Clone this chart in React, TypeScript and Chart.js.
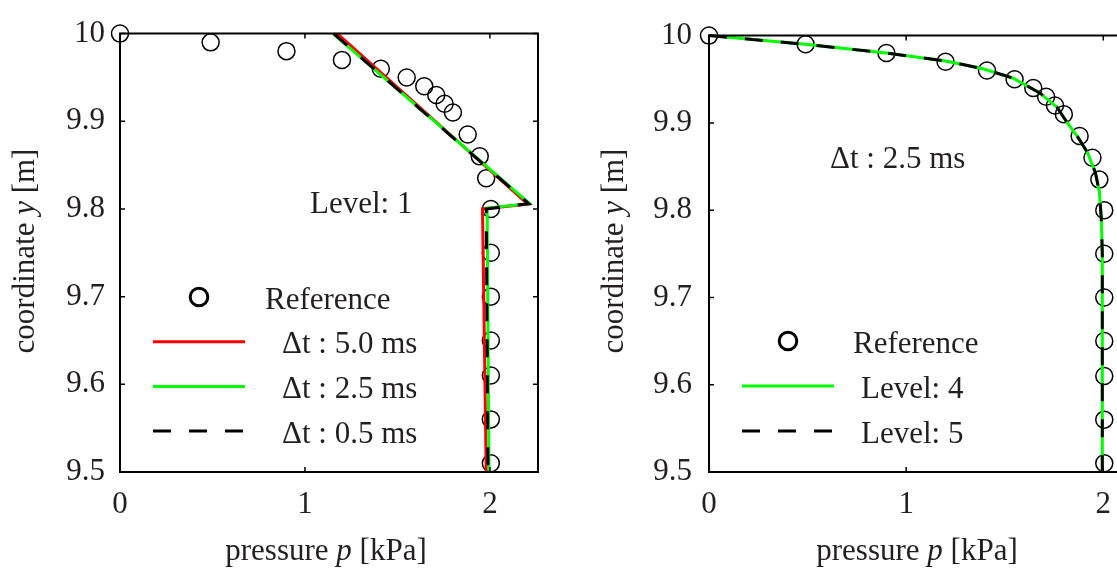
import React, { useEffect, useRef } from 'react';
import { Chart, registerables } from 'chart.js';

Chart.register(...registerables);

const FONT = '"Liberation Serif", "Times New Roman", Times, serif';
const TEXT = '#231f20';
const FS = 31;

// ---------- tick values / labels ----------
const xTickValues = [0, 1, 2];
const xTickLabels = ['0', '1', '2'];
const yTickValues = [9.5, 9.6, 9.7, 9.8, 9.9, 10];
const yTickLabels = ['9.5', '9.6', '9.7', '9.8', '9.9', '10'];

// ---------- reference (circles), shared by both panels ----------
const refP = [0, 0.49, 0.9, 1.2, 1.41, 1.55, 1.645, 1.71, 1.755, 1.8, 1.88, 1.945, 1.98, 2.005, 2.005, 2.005, 2.005, 2.005, 2.005, 2.005];
const refY = [10, 9.99, 9.98, 9.97, 9.96, 9.95, 9.94, 9.93, 9.92, 9.91, 9.885, 9.86, 9.835, 9.8, 9.75, 9.7, 9.65, 9.61, 9.56, 9.51];

// ---------- left panel (Level 1) ----------
const dt50P = [1.175, 2.205, 1.96, 1.98];
const dt50Y = [10, 9.8056, 9.8, 9.5];
const dt25P = [1.152, 2.215, 1.985, 1.995];
const dt25Y = [10, 9.806, 9.801, 9.5];
const dt05P = [1.155, 2.21, 1.98, 1.99];
const dt05Y = [10, 9.806, 9.8, 9.5];

// ---------- right panel (dt 2.5 ms) ----------
const lvl4P = [0, 0.49, 0.9, 1.2, 1.39, 1.545, 1.68, 1.765, 1.815, 1.87, 1.92, 1.96, 1.98, 1.99, 1.995, 1.995, 1.995];
const lvl4Y = [10, 9.99, 9.98, 9.971, 9.962, 9.951, 9.934, 9.918, 9.901, 9.884, 9.866, 9.843, 9.821, 9.79, 9.75, 9.6, 9.5];
const lvl5P = [0, 0.49, 0.9, 1.2, 1.39, 1.545, 1.68, 1.765, 1.815, 1.87, 1.92, 1.96, 1.98, 1.99, 1.995, 1.995, 1.995];
const lvl5Y = [10, 9.99, 9.98, 9.971, 9.962, 9.951, 9.934, 9.918, 9.901, 9.884, 9.866, 9.843, 9.821, 9.79, 9.75, 9.6, 9.5];

const RED = '#ff0000';
const GREEN = '#00ff00';
const BLACK = '#000000';
const DASH = [18, 18];

const pts = (xs: number[], ys: number[]) => xs.map((x, i) => ({ x, y: ys[i] }));

const lineDs = (label: string, xs: number[], ys: number[], color: string, dash: number[] = []) => ({
  label,
  data: pts(xs, ys),
  showLine: true,
  borderColor: color,
  backgroundColor: color,
  borderWidth: 3,
  borderDash: dash,
  pointRadius: 0,
  tension: 0,
  clip: false as const,
});

const refDs = () => ({
  label: 'Reference',
  data: pts(refP, refY),
  showLine: false,
  borderColor: BLACK,
  backgroundColor: 'rgba(0,0,0,0)',
  pointRadius: 8.5,
  pointBorderWidth: 1.5,
  pointStyle: 'circle',
  clip: false as const,
});

type Part = { t: string; it?: boolean };
type LegendEntry = { kind: 'circle' | 'line'; color: string; dash?: number[]; label: string };

function drawMixed(ctx: CanvasRenderingContext2D, parts: Part[], cx: number, by: number, rotate: boolean) {
  ctx.save();
  const widths = parts.map((p) => {
    ctx.font = `${p.it ? 'italic ' : ''}${FS}px ${FONT}`;
    return ctx.measureText(p.t).width;
  });
  const total = widths.reduce((a, b) => a + b, 0);
  if (rotate) {
    ctx.translate(by, cx);
    ctx.rotate(-Math.PI / 2);
  } else {
    ctx.translate(cx, by);
  }
  let x = -total / 2;
  ctx.fillStyle = TEXT;
  ctx.textBaseline = 'alphabetic';
  ctx.textAlign = 'left';
  parts.forEach((p, i) => {
    ctx.font = `${p.it ? 'italic ' : ''}${FS}px ${FONT}`;
    ctx.fillText(p.t, x, 0);
    x += widths[i];
  });
  ctx.restore();
}

interface PanelCfg {
  left: number;
  width: number;
  height: number;
  xMax: number;
  plot: { left: number; right: number; top: number; bottom: number };
  yPad: number;
  datasets: any[];
  legend: { x0: number; x1: number; textX: number; refTextX: number; y0: number; dy: number; entries: LegendEntry[] };
  note: { text: string; x: number; y: number };
  xTitleX: number;
  yTitleBase: number;
  yTitleCenter: number;
}

function Panel({ cfg }: { cfg: PanelCfg }) {
  const ref = useRef<HTMLCanvasElement | null>(null);
  useEffect(() => {
    if (!ref.current) return;
    const decor = {
      id: 'decor',
      afterDraw(chart: any) {
        const ctx: CanvasRenderingContext2D = chart.ctx;
        const { left, right, top, bottom } = chart.chartArea;
        const xs = chart.scales.x;
        const ys = chart.scales.y;
        ctx.save();
        ctx.strokeStyle = BLACK;
        ctx.lineWidth = 2;
        ctx.setLineDash([]);
        ctx.beginPath();
        ctx.moveTo(left, top);
        ctx.lineTo(right, top);
        ctx.lineTo(right, bottom);
        ctx.lineTo(left, bottom);
        ctx.closePath();
        ctx.stroke();
        ctx.lineWidth = 1.5;
        const TL = 5;
        xTickValues.forEach((v) => {
          const px = xs.getPixelForValue(v);
          ctx.beginPath();
          ctx.moveTo(px, bottom);
          ctx.lineTo(px, bottom - TL);
          ctx.moveTo(px, top);
          ctx.lineTo(px, top + TL);
          ctx.stroke();
        });
        yTickValues.forEach((v) => {
          const py = ys.getPixelForValue(v);
          ctx.beginPath();
          ctx.moveTo(left, py);
          ctx.lineTo(left + TL, py);
          ctx.moveTo(right, py);
          ctx.lineTo(right - TL, py);
          ctx.stroke();
        });
        ctx.restore();

        // axis titles
        drawMixed(ctx, [{ t: 'pressure ' }, { t: 'p', it: true }, { t: ' [kPa]' }], cfg.xTitleX, 560, false);
        drawMixed(ctx, [{ t: 'coordinate ' }, { t: 'y', it: true }, { t: ' [m]' }], cfg.yTitleCenter, cfg.yTitleBase, true);

        // note
        ctx.save();
        ctx.font = `${FS}px ${FONT}`;
        ctx.fillStyle = TEXT;
        ctx.textBaseline = 'alphabetic';
        ctx.fillText(cfg.note.text, cfg.note.x, cfg.note.y);
        ctx.restore();

        // legend
        const lg = cfg.legend;
        lg.entries.forEach((e, i) => {
          const yy = lg.y0 + i * lg.dy;
          ctx.save();
          ctx.strokeStyle = e.color;
          ctx.lineWidth = 3;
          if (e.kind === 'circle') {
            ctx.beginPath();
            ctx.arc((lg.x0 + lg.x1) / 2, yy, 8.8, 0, Math.PI * 2);
            ctx.stroke();
          } else {
            ctx.setLineDash(e.dash || []);
            ctx.beginPath();
            ctx.moveTo(lg.x0, yy);
            ctx.lineTo(lg.x1, yy);
            ctx.stroke();
          }
          ctx.setLineDash([]);
          ctx.font = `${FS}px ${FONT}`;
          ctx.fillStyle = TEXT;
          ctx.textBaseline = 'alphabetic';
          ctx.fillText(e.label, e.kind === 'circle' ? lg.refTextX : lg.textX, yy + 11.5);
          ctx.restore();
        });
      },
    };

    const p = cfg.plot;
    const chart = new Chart(ref.current, {
      type: 'scatter',
      data: { datasets: cfg.datasets },
      options: {
        responsive: false,
        animation: false,
        devicePixelRatio: 1,
        layout: { padding: { left: 0, right: cfg.width - p.right, top: p.top, bottom: 0 } },
        plugins: { legend: { display: false }, tooltip: { enabled: false } },
        scales: {
          x: {
            type: 'linear',
            min: 0,
            max: cfg.xMax,
            afterBuildTicks: (s: any) => {
              s.ticks = xTickValues.map((v) => ({ value: v }));
            },
            afterFit: (s: any) => {
              s.height = cfg.height - p.bottom;
            },
            ticks: {
              callback: (_v: any, i: number) => xTickLabels[i],
              font: { family: FONT, size: FS },
              color: TEXT,
              padding: 14,
              maxRotation: 0,
              autoSkip: false,
            },
            grid: { display: false, drawTicks: false },
            border: { display: false },
          },
          y: {
            type: 'linear',
            min: 9.5,
            max: 10,
            afterBuildTicks: (s: any) => {
              s.ticks = yTickValues.map((v) => ({ value: v }));
            },
            afterFit: (s: any) => {
              s.width = p.left;
            },
            ticks: {
              callback: (_v: any, i: number) => yTickLabels[i],
              font: { family: FONT, size: FS },
              color: TEXT,
              padding: cfg.yPad,
              autoSkip: false,
            },
            grid: { display: false, drawTicks: false },
            border: { display: false },
          },
        },
      },
      plugins: [decor],
    });
    return () => chart.destroy();
  }, []);
  return (
    <canvas
      ref={ref}
      width={cfg.width}
      height={cfg.height}
      style={{ position: 'absolute', left: cfg.left, top: 0, width: cfg.width, height: cfg.height }}
    />
  );
}

const leftCfg: PanelCfg = {
  left: 0,
  width: 560,
  height: 570,
  xMax: 2.26,
  plot: { left: 120, right: 538, top: 21, bottom: 472 },
  yPad: 15,
  datasets: [
    lineDs('Δt : 0.5 ms', dt05P, dt05Y, BLACK, DASH),
    lineDs('Δt : 2.5 ms', dt25P, dt25Y, GREEN),
    lineDs('Δt : 5.0 ms', dt50P, dt50Y, RED),
    refDs(),
  ],
  legend: {
    x0: 153,
    x1: 245,
    textX: 282,
    refTextX: 265,
    y0: 297,
    dy: 44.7,
    entries: [
      { kind: 'circle', color: BLACK, label: 'Reference' },
      { kind: 'line', color: RED, label: 'Δt : 5.0 ms' },
      { kind: 'line', color: GREEN, label: 'Δt : 2.5 ms' },
      { kind: 'line', color: BLACK, dash: DASH, label: 'Δt : 0.5 ms' },
    ],
  },
  note: { text: 'Level: 1', x: 310, y: 213 },
  xTitleX: 326,
  yTitleBase: 34,
  yTitleCenter: 251,
};

const rightCfg: PanelCfg = {
  left: 560,
  width: 600,
  height: 570,
  xMax: 2.1,
  plot: { left: 149, right: 563, top: 21, bottom: 472 },
  yPad: 17,
  datasets: [
    lineDs('Level: 5', lvl5P, lvl5Y, BLACK, DASH),
    lineDs('Level: 4', lvl4P, lvl4Y, GREEN),
    refDs(),
  ],
  legend: {
    x0: 182,
    x1: 274,
    textX: 301,
    refTextX: 293,
    y0: 341,
    dy: 45,
    entries: [
      { kind: 'circle', color: BLACK, label: 'Reference' },
      { kind: 'line', color: GREEN, label: 'Level: 4' },
      { kind: 'line', color: BLACK, dash: DASH, label: 'Level: 5' },
    ],
  },
  note: { text: 'Δt : 2.5 ms', x: 270, y: 168 },
  xTitleX: 357,
  yTitleBase: 63,
  yTitleCenter: 251,
};

export default function App() {
  return (
    <div
      style={{
        position: 'fixed',
        left: 0,
        top: 0,
        width: 1117,
        height: 570,
        overflow: 'hidden',
        background: '#ffffff',
      }}
    >
      <Panel cfg={leftCfg} />
      <Panel cfg={rightCfg} />
    </div>
  );
}
